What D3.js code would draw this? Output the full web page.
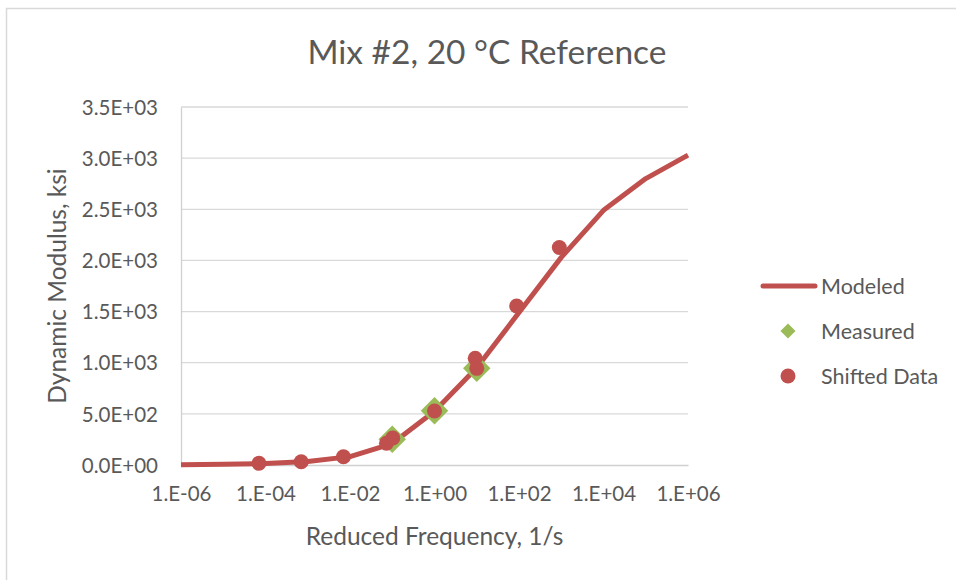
<!DOCTYPE html>
<html>
<head>
<meta charset="utf-8">
<script src="https://cdn.jsdelivr.net/npm/d3@7"></script>
<style>
  body { margin: 0; background: #fff; }
  svg text { font-family: Lato, "Open Sans", sans-serif; fill: #595959; }
</style>
</head>
<body>
<div id="chart"></div>
<script>
// Modeled master curve, one point per decade of reduced frequency
const modeledFreq = [1e-6, 1e-5, 1e-4, 1e-3, 1e-2, 1e-1, 1e0, 1e1, 1e2, 1e3, 1e4, 1e5, 1e6];
const modeledModulus = [3, 7, 15, 35, 82, 210, 525, 950, 1490, 2030, 2490, 2800, 3030];

// Measured at 20 °C
const measuredFreq = [0.1, 1, 10];
const measuredModulus = [251, 530, 945];

// Data shifted from the other temperatures
const shiftedFreq = [7e-5, 7e-4, 7e-3, 0.073, 0.103, 1, 9.2, 10, 88, 900];
const shiftedModulus = [17, 32, 81, 212, 264, 528, 1043, 945, 1554, 2126];

const xTicks = [1e-6, 1e-4, 1e-2, 1e0, 1e2, 1e4, 1e6];
const yTicks = [0, 500, 1000, 1500, 2000, 2500, 3000, 3500];

const seriesNames = ["Modeled", "Measured", "Shifted Data"];
const red = "#c0504d";
const green = "#9bbb59";

function drawChart() {
    const width = 956, height = 580;
    const margin = { top: 107, right: 268, bottom: 115, left: 181 };
    const plotW = width - margin.left - margin.right;
    const plotH = height - margin.top - margin.bottom;

    const svg = d3.select("#chart").append("svg")
        .attr("width", width)
        .attr("height", height);

    // Chart area border (runs off the right and bottom edges)
    svg.append("rect")
        .attr("x", 6.5).attr("y", 8.5)
        .attr("width", 1000).attr("height", 700)
        .attr("fill", "none")
        .attr("stroke", "#d9d9d9")
        .attr("stroke-width", 1.5);

    const g = svg.append("g")
        .attr("transform", `translate(${margin.left},${margin.top})`);

    const xScale = d3.scaleLog().domain([1e-6, 1e6]).range([0, plotW]);
    const yScale = d3.scaleLinear().domain([0, 3500]).range([plotH, 0]);

    const pad2 = n => String(n).padStart(2, "0");
    const xFormat = d => {
        const e = Math.round(Math.log10(d));
        return "1.E" + (e < 0 ? "-" : "+") + pad2(Math.abs(e));
    };
    const yFormat = d => {
        if (d === 0) return "0.0E+00";
        const e = Math.floor(Math.log10(d));
        return (d / Math.pow(10, e)).toFixed(1) + "E+" + pad2(e);
    };

    // Gridlines
    g.append("g")
        .selectAll("line")
        .data(yTicks.slice(1))
        .enter()
        .append("line")
        .attr("x1", 0).attr("x2", plotW)
        .attr("y1", d => yScale(d)).attr("y2", d => yScale(d))
        .attr("stroke", "#d9d9d9")
        .attr("stroke-width", 1.3);

    // Axes
    const xAxis = d3.axisBottom(xScale).tickValues(xTicks).tickFormat(xFormat).tickSize(0).tickPadding(21);
    const yAxis = d3.axisLeft(yScale).tickValues(yTicks).tickFormat(yFormat).tickSize(0).tickPadding(23);

    const gx = g.append("g")
        .attr("transform", `translate(0,${plotH})`)
        .call(xAxis);
    const gy = g.append("g").call(yAxis);

    [gx, gy].forEach(a => {
        a.select(".domain").attr("stroke", "#d0d0d0").attr("stroke-width", 1.3);
        a.selectAll("text").style("font-size", "20.5px").attr("fill", "#595959");
    });
    gy.selectAll("text").attr("dy", "0.35em");

    // Axis titles
    g.append("text")
        .attr("text-anchor", "middle")
        .attr("x", plotW / 2)
        .attr("y", plotH + 80)
        .style("font-size", "24.5px")
        .text("Reduced Frequency, 1/s");

    g.append("text")
        .attr("text-anchor", "middle")
        .attr("transform", "rotate(-90)")
        .attr("x", -plotH / 2)
        .attr("y", -115)
        .style("font-size", "24.5px")
        .text("Dynamic Modulus, ksi");

    // Title
    svg.append("text")
        .attr("text-anchor", "middle")
        .attr("x", 487)
        .attr("y", 64)
        .style("font-size", "33.5px")
        .text("Mix #2, 20 °C Reference");

    // Modeled line
    const line = d3.line()
        .x((d, i) => xScale(modeledFreq[i]))
        .y(d => yScale(d));

    g.append("path")
        .datum(modeledModulus)
        .attr("fill", "none")
        .attr("stroke", red)
        .attr("stroke-width", 5)
        .attr("stroke-linejoin", "round")
        .attr("d", line);

    // Measured diamonds
    const diamond = d3.symbol().type(d3.symbolDiamond2).size(480);
    g.selectAll(".measured")
        .data(measuredModulus)
        .enter()
        .append("path")
        .attr("class", "measured")
        .attr("transform", (d, i) => `translate(${xScale(measuredFreq[i])},${yScale(d)})`)
        .attr("d", diamond)
        .attr("fill", green);

    // Shifted data circles
    g.selectAll(".shifted")
        .data(shiftedModulus)
        .enter()
        .append("circle")
        .attr("class", "shifted")
        .attr("cx", (d, i) => xScale(shiftedFreq[i]))
        .attr("cy", d => yScale(d))
        .attr("r", 7.5)
        .attr("fill", red);

    // Legend
    const legend = svg.append("g");
    const legY = [286, 331, 376];

    legend.append("line")
        .attr("x1", 763).attr("x2", 815)
        .attr("y1", legY[0]).attr("y2", legY[0])
        .attr("stroke", red)
        .attr("stroke-width", 5)
        .attr("stroke-linecap", "round");

    legend.append("path")
        .attr("transform", `translate(788,${legY[1]})`)
        .attr("d", d3.symbol().type(d3.symbolDiamond2).size(145))
        .attr("fill", green);

    legend.append("circle")
        .attr("cx", 788).attr("cy", legY[2])
        .attr("r", 7.5)
        .attr("fill", red);

    legend.selectAll(".leg-label")
        .data(seriesNames)
        .enter()
        .append("text")
        .attr("class", "leg-label")
        .attr("x", 821)
        .attr("y", (d, i) => legY[i])
        .attr("dy", "0.35em")
        .style("font-size", "21.5px")
        .text(d => d);
}

drawChart();
</script>
</body>
</html>
